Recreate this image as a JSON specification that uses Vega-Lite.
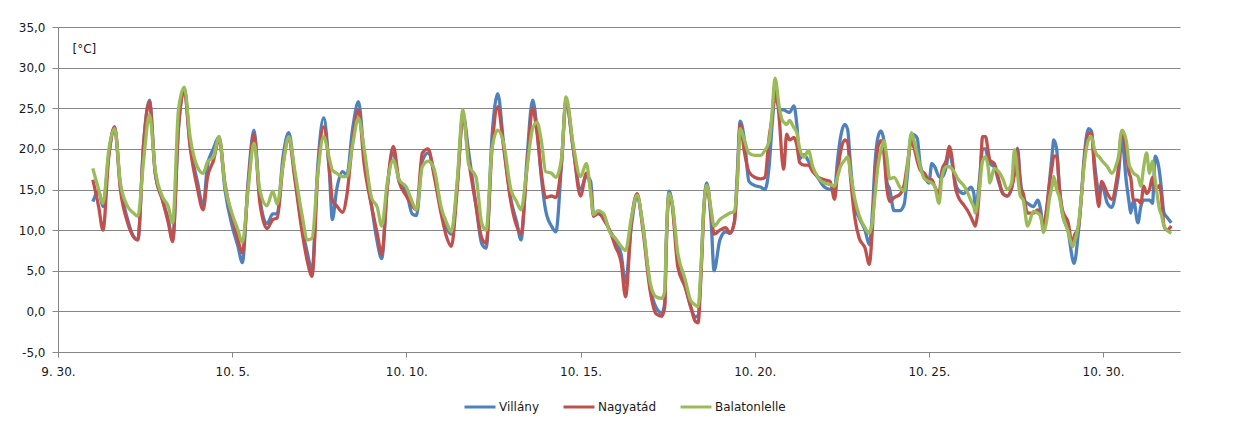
{
"$schema": "https://vega.github.io/schema/vega-lite/v6.json",
"width": 1122, "height": 325,
"autosize": {"type": "none"},
"padding": {"left": 58, "top": 27, "right": 65, "bottom": 74},
"background": "white",
"config": {"view": {"stroke": null}, "font": "DejaVu Sans",
 "axis": {"labelFont": "DejaVu Sans", "labelFontSize": 12, "labelColor": "#1a1a1a", "domainColor": "#868686", "tickColor": "#868686", "gridColor": "#868686"},
 "legend": {"labelFont": "DejaVu Sans", "labelFontSize": 12, "labelColor": "#1a1a1a"}},
"data": {"values": [
{"t":"2013-10-01T00:00Z","Villány":13.5,"Nagyatád":16.2,"Balatonlelle":17.6},
{"t":"2013-10-01T04:00Z","Villány":14.8,"Nagyatád":12.9,"Balatonlelle":15.0},
{"t":"2013-10-01T07:00Z","Villány":12.9,"Nagyatád":10.0,"Balatonlelle":13.3},
{"t":"2013-10-01T11:00Z","Villány":19.3,"Nagyatád":19.1,"Balatonlelle":19.9},
{"t":"2013-10-01T15:00Z","Villány":22.7,"Nagyatád":22.7,"Balatonlelle":22.5},
{"t":"2013-10-01T19:00Z","Villány":15.4,"Nagyatád":15.0,"Balatonlelle":15.8},
{"t":"2013-10-02T00:00Z","Villány":11.3,"Nagyatád":10.9,"Balatonlelle":12.9},
{"t":"2013-10-02T04:00Z","Villány":9.2,"Nagyatád":9.2,"Balatonlelle":12.1},
{"t":"2013-10-02T07:00Z","Villány":8.8,"Nagyatád":8.8,"Balatonlelle":11.7},
{"t":"2013-10-02T11:00Z","Villány":20.7,"Nagyatád":20.7,"Balatonlelle":18.6},
{"t":"2013-10-02T15:00Z","Villány":26.0,"Nagyatád":25.8,"Balatonlelle":24.2},
{"t":"2013-10-02T19:00Z","Villány":17.0,"Nagyatád":17.0,"Balatonlelle":17.4},
{"t":"2013-10-03T00:00Z","Villány":13.7,"Nagyatád":13.7,"Balatonlelle":14.1},
{"t":"2013-10-03T04:00Z","Villány":11.3,"Nagyatád":10.9,"Balatonlelle":12.9},
{"t":"2013-10-03T07:00Z","Villány":8.8,"Nagyatád":8.6,"Balatonlelle":10.9},
{"t":"2013-10-03T11:00Z","Villány":22.5,"Nagyatád":22.7,"Balatonlelle":24.8},
{"t":"2013-10-03T15:00Z","Villány":27.3,"Nagyatád":27.3,"Balatonlelle":27.6},
{"t":"2013-10-03T19:00Z","Villány":20.5,"Nagyatád":20.3,"Balatonlelle":21.5},
{"t":"2013-10-04T00:00Z","Villány":16.0,"Nagyatád":15.2,"Balatonlelle":17.8},
{"t":"2013-10-04T04:00Z","Villány":13.0,"Nagyatád":12.5,"Balatonlelle":17.0},
{"t":"2013-10-04T07:00Z","Villány":18.0,"Nagyatád":16.5,"Balatonlelle":18.4},
{"t":"2013-10-04T11:00Z","Villány":20.0,"Nagyatád":18.5,"Balatonlelle":19.0},
{"t":"2013-10-04T15:00Z","Villány":21.5,"Nagyatád":21.2,"Balatonlelle":21.5},
{"t":"2013-10-04T19:00Z","Villány":15.0,"Nagyatád":15.8,"Balatonlelle":15.5},
{"t":"2013-10-05T00:00Z","Villány":10.5,"Nagyatád":11.5,"Balatonlelle":12.0},
{"t":"2013-10-05T04:00Z","Villány":8.0,"Nagyatád":8.8,"Balatonlelle":10.0},
{"t":"2013-10-05T07:00Z","Villány":6.0,"Nagyatád":7.2,"Balatonlelle":8.5},
{"t":"2013-10-05T11:00Z","Villány":16.0,"Nagyatád":15.5,"Balatonlelle":15.0},
{"t":"2013-10-05T15:00Z","Villány":22.3,"Nagyatád":21.8,"Balatonlelle":20.7},
{"t":"2013-10-05T19:00Z","Villány":14.0,"Nagyatád":13.5,"Balatonlelle":15.0},
{"t":"2013-10-06T00:00Z","Villány":10.8,"Nagyatád":10.2,"Balatonlelle":13.0},
{"t":"2013-10-06T04:00Z","Villány":12.0,"Nagyatád":11.3,"Balatonlelle":14.8},
{"t":"2013-10-06T07:00Z","Villány":12.0,"Nagyatád":11.5,"Balatonlelle":13.2},
{"t":"2013-10-06T11:00Z","Villány":19.0,"Nagyatád":18.0,"Balatonlelle":18.0},
{"t":"2013-10-06T15:00Z","Villány":22.0,"Nagyatád":21.3,"Balatonlelle":21.5},
{"t":"2013-10-06T19:00Z","Villány":17.0,"Nagyatád":16.5,"Balatonlelle":17.5},
{"t":"2013-10-07T00:00Z","Villány":10.5,"Nagyatád":10.0,"Balatonlelle":12.0},
{"t":"2013-10-07T04:00Z","Villány":7.0,"Nagyatád":6.0,"Balatonlelle":8.8},
{"t":"2013-10-07T07:00Z","Villány":5.0,"Nagyatád":4.3,"Balatonlelle":9.0},
{"t":"2013-10-07T11:00Z","Villány":18.0,"Nagyatád":17.0,"Balatonlelle":17.0},
{"t":"2013-10-07T15:00Z","Villány":23.8,"Nagyatád":22.7,"Balatonlelle":21.5},
{"t":"2013-10-07T19:00Z","Villány":17.0,"Nagyatád":17.5,"Balatonlelle":18.8},
{"t":"2013-10-07T21:00Z","Villány":11.3,"Nagyatád":13.7,"Balatonlelle":17.4},
{"t":"2013-10-08T00:00Z","Villány":15.0,"Nagyatád":13.0,"Balatonlelle":17.0},
{"t":"2013-10-08T04:00Z","Villány":17.2,"Nagyatád":12.2,"Balatonlelle":16.6},
{"t":"2013-10-08T07:00Z","Villány":16.8,"Nagyatád":14.3,"Balatonlelle":16.6},
{"t":"2013-10-08T11:00Z","Villány":22.5,"Nagyatád":21.0,"Balatonlelle":20.5},
{"t":"2013-10-08T15:00Z","Villány":25.8,"Nagyatád":24.8,"Balatonlelle":23.8},
{"t":"2013-10-08T19:00Z","Villány":19.0,"Nagyatád":18.0,"Balatonlelle":19.9},
{"t":"2013-10-09T00:00Z","Villány":13.0,"Nagyatád":13.0,"Balatonlelle":14.0},
{"t":"2013-10-09T04:00Z","Villány":8.5,"Nagyatád":9.5,"Balatonlelle":12.8},
{"t":"2013-10-09T07:00Z","Villány":6.5,"Nagyatád":7.0,"Balatonlelle":10.5},
{"t":"2013-10-09T11:00Z","Villány":15.5,"Nagyatád":15.5,"Balatonlelle":16.0},
{"t":"2013-10-09T15:00Z","Villány":19.5,"Nagyatád":20.3,"Balatonlelle":18.6},
{"t":"2013-10-09T19:00Z","Villány":16.0,"Nagyatád":16.0,"Balatonlelle":16.2},
{"t":"2013-10-10T00:00Z","Villány":14.8,"Nagyatád":14.2,"Balatonlelle":15.3},
{"t":"2013-10-10T04:00Z","Villány":12.0,"Nagyatád":13.0,"Balatonlelle":13.5},
{"t":"2013-10-10T07:00Z","Villány":11.8,"Nagyatád":12.5,"Balatonlelle":12.5},
{"t":"2013-10-10T11:00Z","Villány":18.5,"Nagyatád":19.5,"Balatonlelle":17.8},
{"t":"2013-10-10T15:00Z","Villány":19.5,"Nagyatád":20.0,"Balatonlelle":18.5},
{"t":"2013-10-10T19:00Z","Villány":17.3,"Nagyatád":16.8,"Balatonlelle":17.6},
{"t":"2013-10-11T00:00Z","Villány":12.5,"Nagyatád":12.0,"Balatonlelle":12.8},
{"t":"2013-10-11T04:00Z","Villány":10.2,"Nagyatád":9.0,"Balatonlelle":10.8},
{"t":"2013-10-11T07:00Z","Villány":9.5,"Nagyatád":8.0,"Balatonlelle":9.8},
{"t":"2013-10-11T11:00Z","Villány":15.5,"Nagyatád":15.0,"Balatonlelle":16.0},
{"t":"2013-10-11T15:00Z","Villány":24.2,"Nagyatád":24.0,"Balatonlelle":24.8},
{"t":"2013-10-11T19:00Z","Villány":19.5,"Nagyatád":18.5,"Balatonlelle":18.0},
{"t":"2013-10-12T00:00Z","Villány":13.0,"Nagyatád":13.0,"Balatonlelle":16.5},
{"t":"2013-10-12T04:00Z","Villány":8.3,"Nagyatád":9.0,"Balatonlelle":10.8},
{"t":"2013-10-12T07:00Z","Villány":7.8,"Nagyatád":8.4,"Balatonlelle":10.0},
{"t":"2013-10-12T11:00Z","Villány":21.5,"Nagyatád":20.0,"Balatonlelle":20.0},
{"t":"2013-10-12T15:00Z","Villány":26.8,"Nagyatád":25.2,"Balatonlelle":22.3},
{"t":"2013-10-12T19:00Z","Villány":20.6,"Nagyatád":20.2,"Balatonlelle":20.7},
{"t":"2013-10-13T00:00Z","Villány":13.8,"Nagyatád":13.5,"Balatonlelle":15.0},
{"t":"2013-10-13T04:00Z","Villány":11.0,"Nagyatád":10.5,"Balatonlelle":13.5},
{"t":"2013-10-13T07:00Z","Villány":8.8,"Nagyatád":9.5,"Balatonlelle":12.5},
{"t":"2013-10-13T11:00Z","Villány":18.5,"Nagyatád":17.5,"Balatonlelle":17.5},
{"t":"2013-10-13T15:00Z","Villány":26.0,"Nagyatád":25.0,"Balatonlelle":22.5},
{"t":"2013-10-13T18:00Z","Villány":22.5,"Nagyatád":22.0,"Balatonlelle":23.3},
{"t":"2013-10-13T21:00Z","Villány":16.5,"Nagyatád":17.0,"Balatonlelle":21.0},
{"t":"2013-10-14T00:00Z","Villány":12.4,"Nagyatád":14.0,"Balatonlelle":17.2},
{"t":"2013-10-14T04:00Z","Villány":10.5,"Nagyatád":14.2,"Balatonlelle":17.0},
{"t":"2013-10-14T07:00Z","Villány":9.8,"Nagyatád":14.0,"Balatonlelle":16.5},
{"t":"2013-10-14T11:00Z","Villány":18.5,"Nagyatád":18.5,"Balatonlelle":19.0},
{"t":"2013-10-14T14:00Z","Villány":25.8,"Nagyatád":26.0,"Balatonlelle":26.4},
{"t":"2013-10-14T19:00Z","Villány":20.0,"Nagyatád":20.0,"Balatonlelle":20.5},
{"t":"2013-10-15T00:00Z","Villány":15.0,"Nagyatád":14.2,"Balatonlelle":16.6},
{"t":"2013-10-15T04:00Z","Villány":16.6,"Nagyatád":17.0,"Balatonlelle":18.2},
{"t":"2013-10-15T07:00Z","Villány":16.0,"Nagyatád":15.0,"Balatonlelle":14.5},
{"t":"2013-10-15T09:00Z","Villány":11.8,"Nagyatád":11.7,"Balatonlelle":11.9},
{"t":"2013-10-15T12:00Z","Villány":12.0,"Nagyatád":12.2,"Balatonlelle":12.4},
{"t":"2013-10-15T16:00Z","Villány":11.6,"Nagyatád":11.3,"Balatonlelle":12.0},
{"t":"2013-10-15T20:00Z","Villány":10.0,"Nagyatád":10.0,"Balatonlelle":9.8},
{"t":"2013-10-16T00:00Z","Villány":8.8,"Nagyatád":8.0,"Balatonlelle":9.0},
{"t":"2013-10-16T04:00Z","Villány":7.0,"Nagyatád":6.0,"Balatonlelle":8.0},
{"t":"2013-10-16T07:00Z","Villány":3.5,"Nagyatád":1.8,"Balatonlelle":7.5},
{"t":"2013-10-16T11:00Z","Villány":10.5,"Nagyatád":11.0,"Balatonlelle":11.5},
{"t":"2013-10-16T15:00Z","Villány":14.0,"Nagyatád":14.5,"Balatonlelle":14.3},
{"t":"2013-10-16T19:00Z","Villány":10.5,"Nagyatád":10.0,"Balatonlelle":10.5},
{"t":"2013-10-17T00:00Z","Villány":3.0,"Nagyatád":2.5,"Balatonlelle":3.5},
{"t":"2013-10-17T04:00Z","Villány":0.5,"Nagyatád":-0.3,"Balatonlelle":1.8},
{"t":"2013-10-17T08:00Z","Villány":-0.2,"Nagyatád":-0.6,"Balatonlelle":1.6},
{"t":"2013-10-17T10:00Z","Villány":1.0,"Nagyatád":0.5,"Balatonlelle":2.5},
{"t":"2013-10-17T11:00Z","Villány":8.0,"Nagyatád":7.5,"Balatonlelle":8.5},
{"t":"2013-10-17T13:00Z","Villány":14.8,"Nagyatád":14.3,"Balatonlelle":14.5},
{"t":"2013-10-17T15:00Z","Villány":13.5,"Nagyatád":13.2,"Balatonlelle":13.5},
{"t":"2013-10-17T19:00Z","Villány":6.5,"Nagyatád":5.5,"Balatonlelle":7.2},
{"t":"2013-10-18T00:00Z","Villány":3.3,"Nagyatád":3.0,"Balatonlelle":4.0},
{"t":"2013-10-18T04:00Z","Villány":0.5,"Nagyatád":0.5,"Balatonlelle":1.3},
{"t":"2013-10-18T07:00Z","Villány":-0.7,"Nagyatád":-1.2,"Balatonlelle":0.8},
{"t":"2013-10-18T09:00Z","Villány":-0.5,"Nagyatád":-1.4,"Balatonlelle":0.6},
{"t":"2013-10-18T11:00Z","Villány":5.0,"Nagyatád":4.5,"Balatonlelle":5.5},
{"t":"2013-10-18T13:00Z","Villány":13.0,"Nagyatád":12.5,"Balatonlelle":13.0},
{"t":"2013-10-18T15:00Z","Villány":15.8,"Nagyatád":15.5,"Balatonlelle":15.5},
{"t":"2013-10-18T18:00Z","Villány":11.0,"Nagyatád":12.0,"Balatonlelle":12.5},
{"t":"2013-10-18T20:00Z","Villány":5.0,"Nagyatád":9.5,"Balatonlelle":10.5},
{"t":"2013-10-19T00:00Z","Villány":8.8,"Nagyatád":10.0,"Balatonlelle":11.3},
{"t":"2013-10-19T04:00Z","Villány":9.8,"Nagyatád":10.3,"Balatonlelle":11.8},
{"t":"2013-10-19T07:00Z","Villány":9.6,"Nagyatád":9.6,"Balatonlelle":12.1},
{"t":"2013-10-19T10:00Z","Villány":11.0,"Nagyatád":11.0,"Balatonlelle":12.3},
{"t":"2013-10-19T12:00Z","Villány":17.0,"Nagyatád":16.0,"Balatonlelle":16.0},
{"t":"2013-10-19T14:00Z","Villány":23.4,"Nagyatád":23.0,"Balatonlelle":22.5},
{"t":"2013-10-19T17:00Z","Villány":21.0,"Nagyatád":19.5,"Balatonlelle":21.0},
{"t":"2013-10-19T20:00Z","Villány":16.0,"Nagyatád":17.2,"Balatonlelle":19.5},
{"t":"2013-10-20T00:00Z","Villány":15.5,"Nagyatád":16.5,"Balatonlelle":19.2},
{"t":"2013-10-20T04:00Z","Villány":15.3,"Nagyatád":16.3,"Balatonlelle":19.2},
{"t":"2013-10-20T07:00Z","Villány":15.0,"Nagyatád":16.5,"Balatonlelle":19.8},
{"t":"2013-10-20T10:00Z","Villány":18.0,"Nagyatád":21.5,"Balatonlelle":21.0},
{"t":"2013-10-20T12:00Z","Villány":23.0,"Nagyatád":24.0,"Balatonlelle":24.5},
{"t":"2013-10-20T14:00Z","Villány":26.4,"Nagyatád":27.9,"Balatonlelle":28.7},
{"t":"2013-10-20T17:00Z","Villány":25.0,"Nagyatád":23.5,"Balatonlelle":25.0},
{"t":"2013-10-20T19:00Z","Villány":24.8,"Nagyatád":18.5,"Balatonlelle":23.5},
{"t":"2013-10-20T20:00Z","Villány":24.8,"Nagyatád":17.5,"Balatonlelle":23.3},
{"t":"2013-10-20T22:00Z","Villány":24.6,"Nagyatád":21.8,"Balatonlelle":23.0},
{"t":"2013-10-21T00:00Z","Villány":24.5,"Nagyatád":21.1,"Balatonlelle":23.5},
{"t":"2013-10-21T03:00Z","Villány":25.3,"Nagyatád":21.4,"Balatonlelle":22.6},
{"t":"2013-10-21T05:00Z","Villány":23.0,"Nagyatád":20.5,"Balatonlelle":22.0},
{"t":"2013-10-21T07:00Z","Villány":18.8,"Nagyatád":18.3,"Balatonlelle":20.0},
{"t":"2013-10-21T10:00Z","Villány":19.3,"Nagyatád":18.0,"Balatonlelle":19.0},
{"t":"2013-10-21T13:00Z","Villány":18.5,"Nagyatád":18.0,"Balatonlelle":19.8},
{"t":"2013-10-21T16:00Z","Villány":17.5,"Nagyatád":17.2,"Balatonlelle":17.8},
{"t":"2013-10-21T20:00Z","Villány":16.3,"Nagyatád":16.5,"Balatonlelle":16.4},
{"t":"2013-10-22T00:00Z","Villány":15.3,"Nagyatád":16.2,"Balatonlelle":15.8},
{"t":"2013-10-22T04:00Z","Villány":15.0,"Nagyatád":16.0,"Balatonlelle":15.6},
{"t":"2013-10-22T07:00Z","Villány":15.0,"Nagyatád":13.8,"Balatonlelle":15.4},
{"t":"2013-10-22T09:00Z","Villány":18.5,"Nagyatád":17.0,"Balatonlelle":16.5},
{"t":"2013-10-22T11:00Z","Villány":21.3,"Nagyatád":19.5,"Balatonlelle":17.8},
{"t":"2013-10-22T14:00Z","Villány":23.0,"Nagyatád":21.1,"Balatonlelle":18.6},
{"t":"2013-10-22T16:00Z","Villány":22.4,"Nagyatád":20.8,"Balatonlelle":19.0},
{"t":"2013-10-22T18:00Z","Villány":18.0,"Nagyatád":16.5,"Balatonlelle":17.0},
{"t":"2013-10-22T21:00Z","Villány":13.0,"Nagyatád":11.5,"Balatonlelle":13.8},
{"t":"2013-10-23T00:00Z","Villány":11.5,"Nagyatád":9.0,"Balatonlelle":11.8},
{"t":"2013-10-23T04:00Z","Villány":10.0,"Nagyatád":7.8,"Balatonlelle":10.3},
{"t":"2013-10-23T07:00Z","Villány":8.2,"Nagyatád":5.8,"Balatonlelle":9.6},
{"t":"2013-10-23T09:00Z","Villány":12.0,"Nagyatád":10.0,"Balatonlelle":11.0},
{"t":"2013-10-23T11:00Z","Villány":18.5,"Nagyatád":16.5,"Balatonlelle":14.5},
{"t":"2013-10-23T13:00Z","Villány":21.5,"Nagyatád":20.3,"Balatonlelle":18.0},
{"t":"2013-10-23T15:00Z","Villány":22.2,"Nagyatád":21.0,"Balatonlelle":19.8},
{"t":"2013-10-23T17:00Z","Villány":21.0,"Nagyatád":19.5,"Balatonlelle":21.0},
{"t":"2013-10-23T19:00Z","Villány":16.0,"Nagyatád":15.2,"Balatonlelle":19.0},
{"t":"2013-10-23T21:00Z","Villány":15.0,"Nagyatád":13.5,"Balatonlelle":16.3},
{"t":"2013-10-24T00:00Z","Villány":12.4,"Nagyatád":14.0,"Balatonlelle":16.5},
{"t":"2013-10-24T04:00Z","Villány":12.4,"Nagyatád":14.4,"Balatonlelle":15.3},
{"t":"2013-10-24T07:00Z","Villány":13.2,"Nagyatád":15.6,"Balatonlelle":14.8},
{"t":"2013-10-24T09:00Z","Villány":16.4,"Nagyatád":17.9,"Balatonlelle":17.4},
{"t":"2013-10-24T12:00Z","Villány":21.8,"Nagyatád":21.0,"Balatonlelle":22.0},
{"t":"2013-10-24T14:00Z","Villány":21.7,"Nagyatád":20.0,"Balatonlelle":20.8},
{"t":"2013-10-24T16:00Z","Villány":21.3,"Nagyatád":18.5,"Balatonlelle":19.3},
{"t":"2013-10-24T18:00Z","Villány":18.0,"Nagyatád":17.4,"Balatonlelle":17.8},
{"t":"2013-10-24T21:00Z","Villány":16.6,"Nagyatád":17.0,"Balatonlelle":16.3},
{"t":"2013-10-25T00:00Z","Villány":15.8,"Nagyatád":16.2,"Balatonlelle":16.0},
{"t":"2013-10-25T02:00Z","Villány":18.2,"Nagyatád":16.2,"Balatonlelle":15.8},
{"t":"2013-10-25T04:00Z","Villány":17.8,"Nagyatád":15.4,"Balatonlelle":15.4},
{"t":"2013-10-25T07:00Z","Villány":16.6,"Nagyatád":14.5,"Balatonlelle":13.3},
{"t":"2013-10-25T09:00Z","Villány":16.5,"Nagyatád":17.4,"Balatonlelle":16.6},
{"t":"2013-10-25T12:00Z","Villány":17.8,"Nagyatád":18.6,"Balatonlelle":17.8},
{"t":"2013-10-25T14:00Z","Villány":19.8,"Nagyatád":20.3,"Balatonlelle":17.8},
{"t":"2013-10-25T16:00Z","Villány":18.2,"Nagyatád":18.8,"Balatonlelle":17.5},
{"t":"2013-10-25T18:00Z","Villány":16.0,"Nagyatád":15.5,"Balatonlelle":17.0},
{"t":"2013-10-25T20:00Z","Villány":15.0,"Nagyatád":14.2,"Balatonlelle":16.3},
{"t":"2013-10-26T00:00Z","Villány":14.5,"Nagyatád":13.1,"Balatonlelle":15.5},
{"t":"2013-10-26T03:00Z","Villány":15.0,"Nagyatád":12.3,"Balatonlelle":14.5},
{"t":"2013-10-26T05:00Z","Villány":15.3,"Nagyatád":11.6,"Balatonlelle":13.6},
{"t":"2013-10-26T07:00Z","Villány":14.5,"Nagyatád":10.8,"Balatonlelle":12.8},
{"t":"2013-10-26T08:00Z","Villány":12.5,"Nagyatád":10.5,"Balatonlelle":12.1},
{"t":"2013-10-26T11:00Z","Villány":16.5,"Nagyatád":15.5,"Balatonlelle":15.5},
{"t":"2013-10-26T13:00Z","Villány":20.0,"Nagyatád":21.5,"Balatonlelle":18.5},
{"t":"2013-10-26T15:00Z","Villány":20.0,"Nagyatád":21.5,"Balatonlelle":19.0},
{"t":"2013-10-26T17:00Z","Villány":18.5,"Nagyatád":19.5,"Balatonlelle":17.5},
{"t":"2013-10-26T18:00Z","Villány":18.2,"Nagyatád":18.6,"Balatonlelle":15.8},
{"t":"2013-10-26T21:00Z","Villány":17.8,"Nagyatád":18.2,"Balatonlelle":17.6},
{"t":"2013-10-27T00:00Z","Villány":16.0,"Nagyatád":16.3,"Balatonlelle":17.2},
{"t":"2013-10-27T03:00Z","Villány":14.5,"Nagyatád":14.5,"Balatonlelle":16.3},
{"t":"2013-10-27T06:00Z","Villány":14.2,"Nagyatád":14.2,"Balatonlelle":15.0},
{"t":"2013-10-27T09:00Z","Villány":15.2,"Nagyatád":15.2,"Balatonlelle":15.8},
{"t":"2013-10-27T11:00Z","Villány":17.5,"Nagyatád":17.0,"Balatonlelle":19.9},
{"t":"2013-10-27T12:00Z","Villány":19.0,"Nagyatád":18.5,"Balatonlelle":19.0},
{"t":"2013-10-27T13:00Z","Villány":20.1,"Nagyatád":19.9,"Balatonlelle":17.0},
{"t":"2013-10-27T15:00Z","Villány":16.2,"Nagyatád":15.5,"Balatonlelle":14.2},
{"t":"2013-10-27T17:00Z","Villány":13.8,"Nagyatád":14.5,"Balatonlelle":13.7},
{"t":"2013-10-27T20:00Z","Villány":13.3,"Nagyatád":12.1,"Balatonlelle":10.5},
{"t":"2013-10-28T00:00Z","Villány":12.9,"Nagyatád":12.1,"Balatonlelle":12.3},
{"t":"2013-10-28T03:00Z","Villány":13.7,"Nagyatád":12.5,"Balatonlelle":12.1},
{"t":"2013-10-28T05:00Z","Villány":12.5,"Nagyatád":11.7,"Balatonlelle":11.7},
{"t":"2013-10-28T07:00Z","Villány":10.2,"Nagyatád":10.6,"Balatonlelle":9.7},
{"t":"2013-10-28T09:00Z","Villány":12.0,"Nagyatád":12.5,"Balatonlelle":11.0},
{"t":"2013-10-28T11:00Z","Villány":15.8,"Nagyatád":15.6,"Balatonlelle":13.8},
{"t":"2013-10-28T13:00Z","Villány":19.5,"Nagyatád":18.0,"Balatonlelle":15.5},
{"t":"2013-10-28T14:00Z","Villány":21.1,"Nagyatád":19.1,"Balatonlelle":16.6},
{"t":"2013-10-28T16:00Z","Villány":20.0,"Nagyatád":19.1,"Balatonlelle":15.0},
{"t":"2013-10-28T18:00Z","Villány":15.0,"Nagyatád":15.0,"Balatonlelle":14.0},
{"t":"2013-10-28T20:00Z","Villány":12.0,"Nagyatád":12.5,"Balatonlelle":12.0},
{"t":"2013-10-29T00:00Z","Villány":9.8,"Nagyatád":10.9,"Balatonlelle":9.8},
{"t":"2013-10-29T03:00Z","Villány":6.4,"Nagyatád":8.0,"Balatonlelle":8.0},
{"t":"2013-10-29T04:00Z","Villány":5.9,"Nagyatád":9.2,"Balatonlelle":8.4},
{"t":"2013-10-29T07:00Z","Villány":9.8,"Nagyatád":10.3,"Balatonlelle":10.7},
{"t":"2013-10-29T09:00Z","Villány":14.0,"Nagyatád":14.0,"Balatonlelle":14.0},
{"t":"2013-10-29T11:00Z","Villány":19.0,"Nagyatád":18.5,"Balatonlelle":18.0},
{"t":"2013-10-29T14:00Z","Villány":22.5,"Nagyatád":21.9,"Balatonlelle":21.1},
{"t":"2013-10-29T16:00Z","Villány":22.2,"Nagyatád":22.0,"Balatonlelle":21.5},
{"t":"2013-10-29T18:00Z","Villány":18.5,"Nagyatád":17.5,"Balatonlelle":20.0},
{"t":"2013-10-29T20:00Z","Villány":15.5,"Nagyatád":14.0,"Balatonlelle":19.2},
{"t":"2013-10-29T21:00Z","Villány":14.5,"Nagyatád":12.9,"Balatonlelle":19.1},
{"t":"2013-10-29T23:00Z","Villány":15.6,"Nagyatád":16.0,"Balatonlelle":18.6},
{"t":"2013-10-30T03:00Z","Villány":13.3,"Nagyatád":14.5,"Balatonlelle":17.8},
{"t":"2013-10-30T06:00Z","Villány":12.8,"Nagyatád":13.8,"Balatonlelle":17.0},
{"t":"2013-10-30T09:00Z","Villány":15.0,"Nagyatád":15.8,"Balatonlelle":18.0},
{"t":"2013-10-30T11:00Z","Villány":17.5,"Nagyatád":18.5,"Balatonlelle":19.5},
{"t":"2013-10-30T12:00Z","Villány":19.9,"Nagyatád":21.1,"Balatonlelle":21.5},
{"t":"2013-10-30T13:00Z","Villány":21.1,"Nagyatád":22.1,"Balatonlelle":22.3},
{"t":"2013-10-30T16:00Z","Villány":16.0,"Nagyatád":19.5,"Balatonlelle":21.0},
{"t":"2013-10-30T18:00Z","Villány":13.3,"Nagyatád":17.0,"Balatonlelle":18.0},
{"t":"2013-10-30T19:00Z","Villány":12.1,"Nagyatád":16.5,"Balatonlelle":17.6},
{"t":"2013-10-30T21:00Z","Villány":13.7,"Nagyatád":13.7,"Balatonlelle":17.0},
{"t":"2013-10-31T00:00Z","Villány":10.9,"Nagyatád":13.7,"Balatonlelle":16.6},
{"t":"2013-10-31T02:00Z","Villány":12.9,"Nagyatád":13.3,"Balatonlelle":15.4},
{"t":"2013-10-31T04:00Z","Villány":13.7,"Nagyatád":15.4,"Balatonlelle":17.8},
{"t":"2013-10-31T06:00Z","Villány":13.7,"Nagyatád":14.5,"Balatonlelle":19.5},
{"t":"2013-10-31T08:00Z","Villány":13.7,"Nagyatád":15.0,"Balatonlelle":17.0},
{"t":"2013-10-31T10:00Z","Villány":13.3,"Nagyatád":16.5,"Balatonlelle":18.5},
{"t":"2013-10-31T12:00Z","Villány":19.1,"Nagyatád":15.0,"Balatonlelle":16.0},
{"t":"2013-10-31T15:00Z","Villány":17.0,"Nagyatád":15.5,"Balatonlelle":12.5},
{"t":"2013-10-31T16:00Z","Villány":15.4,"Nagyatád":14.5,"Balatonlelle":12.0},
{"t":"2013-10-31T18:00Z","Villány":12.1,"Nagyatád":10.5,"Balatonlelle":10.5},
{"t":"2013-10-31T20:00Z","Villány":11.6,"Nagyatád":10.0,"Balatonlelle":10.0},
{"t":"2013-10-31T23:00Z","Villány":10.9,"Nagyatád":10.5,"Balatonlelle":9.6}
]},
"transform": [{"fold": ["Villány", "Nagyatád", "Balatonlelle"], "as": ["series", "temp"]}],
"mark": {"type": "line", "strokeWidth": 3.3, "interpolate": "monotone"},
"encoding": {
 "x": {"field": "t", "type": "temporal",
  "scale": {"type": "utc", "domain": [{"year": 2013, "month": 9, "date": 30, "utc": true}, {"year": 2013, "month": 11, "date": 1, "hours": 5, "utc": true}]},
  "axis": {"title": null, "grid": false, "tickSize": 5, "labelPadding": 9, "labelFlush": false, "labelOverlap": false,
   "values": [{"year": 2013, "month": 9, "date": 30, "utc": true}, {"year": 2013, "month": 10, "date": 5, "utc": true}, {"year": 2013, "month": 10, "date": 10, "utc": true}, {"year": 2013, "month": 10, "date": 15, "utc": true}, {"year": 2013, "month": 10, "date": 20, "utc": true}, {"year": 2013, "month": 10, "date": 25, "utc": true}, {"year": 2013, "month": 10, "date": 30, "utc": true}],
   "labelExpr": "utcFormat(datum.value, '%-m. %-d.')"}},
 "y": {"field": "temp", "type": "quantitative",
  "scale": {"domain": [-5, 35], "nice": false, "zero": false},
  "axis": {"values": [-5, 0, 5, 10, 15, 20, 25, 30, 35], "grid": true, "tickSize": 6, "labelPadding": 7,
   "labelExpr": "replace(replace(format(datum.value, '.1f'), '.', ','), '−', '-')",
   "title": "[°C]", "titleAngle": 0, "titleX": 14, "titleY": 21, "titleAlign": "left", "titleBaseline": "middle", "titleFontWeight": "normal", "titleFontSize": 12, "titleColor": "#1a1a1a", "titleFont": "DejaVu Sans"}},
 "color": {"field": "series", "type": "nominal",
  "scale": {"domain": ["Villány", "Nagyatád", "Balatonlelle"], "range": ["#4F81BD", "#C0504D", "#9BBB59"]},
  "legend": {"orient": "none", "legendX": 405, "legendY": 363, "direction": "horizontal", "title": null, "symbolType": "stroke", "symbolStrokeWidth": 3, "symbolSize": 960, "columnPadding": 17, "labelOffset": 2}}
}
}
